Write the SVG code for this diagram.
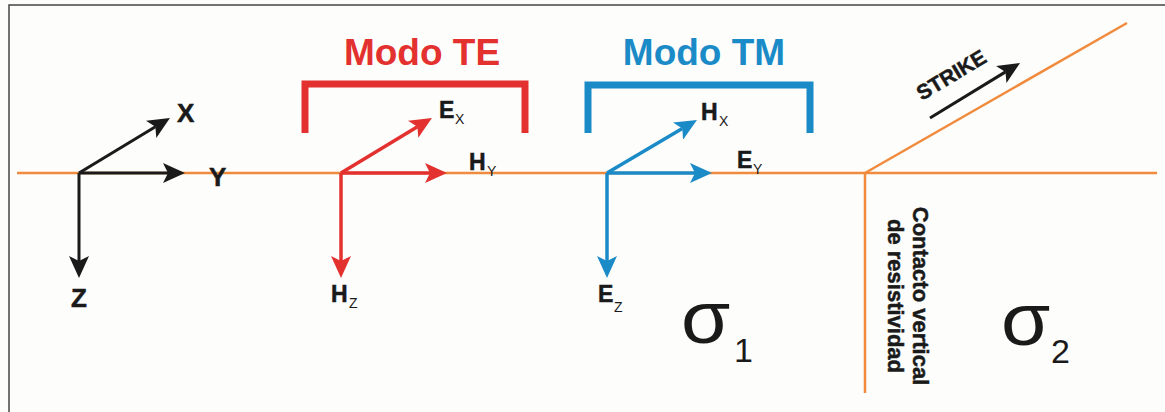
<svg xmlns="http://www.w3.org/2000/svg" width="1165" height="412" viewBox="0 0 1165 412">
<style>
.lbl{font-family:"Liberation Sans",Arial,sans-serif;font-weight:bold;fill:#1a1a1a;stroke:#1a1a1a;stroke-width:0.5}
.big{font-size:26px}
.mid{font-size:23px}
.sub{font-family:"Liberation Sans",Arial,sans-serif;font-size:14px;fill:#1a1a1a}
.sig{font-family:"Liberation Sans",Arial,sans-serif;fill:#1a1a1a}
.orange{stroke:#f08a3c;stroke-width:2.5;fill:none}
.ak{stroke:#1a1a1a;stroke-width:3;fill:none}
.ar{stroke:#e3312f;stroke-width:3.5;fill:none}
.ab{stroke:#1b8bc8;stroke-width:3.5;fill:none}
.title{font-family:"Liberation Sans",Arial,sans-serif;font-weight:bold;font-size:37px}
</style>
<defs>
<marker id="hk" markerUnits="userSpaceOnUse" markerWidth="22" markerHeight="20" refX="5" refY="10" orient="auto" viewBox="0 0 22 20"><path d="M0,0 L22,10 L0,20 L5,10 Z" fill="#1a1a1a"/></marker>
<marker id="hr" markerUnits="userSpaceOnUse" markerWidth="22" markerHeight="20" refX="5" refY="10" orient="auto" viewBox="0 0 22 20"><path d="M0,0 L22,10 L0,20 L5,10 Z" fill="#e3312f"/></marker>
<marker id="hb" markerUnits="userSpaceOnUse" markerWidth="22" markerHeight="20" refX="5" refY="10" orient="auto" viewBox="0 0 22 20"><path d="M0,0 L22,10 L0,20 L5,10 Z" fill="#1b8bc8"/></marker>
</defs>
<rect x="0" y="0" width="1165" height="412" fill="#fdfdfb"/>
<rect x="9" y="5" width="1200" height="500" fill="none" stroke="#444" stroke-width="1.5"/>

<g id="boundaries">
<path class="orange" d="M17,173 H1157"/>
<path class="orange" d="M865,173 L1127,23"/>
<path class="orange" d="M865,173 V393"/>
</g>

<g id="connectors">
<path class="ak" d="M79,173 L155.4,126.8" marker-end="url(#hk)"/>
<path class="ak" d="M79,173 H168" marker-end="url(#hk)"/>
<path class="ak" d="M79,173 V261" marker-end="url(#hk)"/>
<path class="ar" d="M341,173 L417.4,126.7" marker-end="url(#hr)"/>
<path class="ar" d="M341,173 H430" marker-end="url(#hr)"/>
<path class="ar" d="M341,173 V261" marker-end="url(#hr)"/>
<path class="ab" d="M607,173 L682.3,128.6" marker-end="url(#hb)"/>
<path class="ab" d="M607,173 H695" marker-end="url(#hb)"/>
<path class="ab" d="M607,173 V261" marker-end="url(#hb)"/>
<path class="ak" d="M930,118 L1005.5,71.9" marker-end="url(#hk)"/>
</g>

<g id="axes">
<text class="lbl big" x="177" y="122">X</text>
<text class="lbl big" x="209" y="186">Y</text>
<text class="lbl big" x="71" y="307">Z</text>
</g>

<g id="te-mode">
<text class="title" x="422" y="65" text-anchor="middle" fill="#e3312f">Modo TE</text>
<path d="M305,133 V84 H525 V133" fill="none" stroke="#e3312f" stroke-width="7"/>
<text class="lbl mid" x="439" y="118">E</text><text class="sub" x="455" y="124">X</text>
<text class="lbl mid" x="469" y="170">H</text><text class="sub" x="487" y="176">Y</text>
<text class="lbl mid" x="331" y="302">H</text><text class="sub" x="349" y="308">Z</text>
</g>

<g id="tm-mode">
<text class="title" x="704" y="65" text-anchor="middle" fill="#1b8bc8">Modo TM</text>
<path d="M588,133 V85 H810 V133" fill="none" stroke="#1b8bc8" stroke-width="7"/>
<text class="lbl mid" x="701" y="120">H</text><text class="sub" x="719" y="126">X</text>
<text class="lbl mid" x="737" y="168">E</text><text class="sub" x="753" y="174">Y</text>
<text class="lbl mid" x="598" y="302">E</text><text class="sub" x="614" y="312">Z</text>
</g>

<g id="strike">
<text class="lbl" font-size="21" transform="translate(922,101) rotate(-31)">STRIKE</text>
</g>

<g id="contact">
<text class="lbl" font-size="22" stroke-width="0.3" text-anchor="middle" transform="translate(913,296) rotate(90)">Contacto vertical</text>
<text class="lbl" font-size="22" stroke-width="0.3" text-anchor="middle" transform="translate(888,296) rotate(90)">de resistividad</text>
</g>

<g id="sigma1">
<text class="sig" font-size="74" transform="translate(681,343) scale(1.08,1)">σ</text>
<text class="sig" x="734" y="362" font-size="34">1</text>
</g>

<g id="sigma2">
<text class="sig" font-size="74" transform="translate(1001,345) scale(1.08,1)">σ</text>
<text class="sig" x="1051" y="363" font-size="34">2</text>
</g>
</svg>
